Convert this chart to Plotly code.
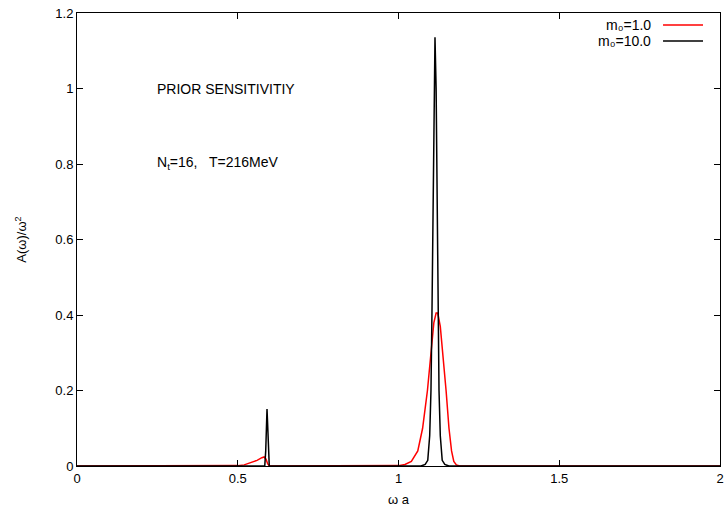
import plotly.graph_objects as go

# ---- data ----
omega_m1 = [0.0, 0.48, 0.50, 0.52, 0.54, 0.56, 0.575, 0.582, 0.588, 0.593, 0.598, 0.62,
            0.98, 1.00, 1.02, 1.04, 1.06, 1.075, 1.09, 1.10, 1.11, 1.117, 1.122, 1.13, 1.138,
            1.148, 1.157, 1.165, 1.172, 1.18, 1.19, 2.0]
a_m1 = [0.0, 0.0, 0.001, 0.003, 0.008, 0.015, 0.022, 0.024, 0.018, 0.006, 0.0, 0.0,
        0.0, 0.001, 0.004, 0.012, 0.04, 0.10, 0.20, 0.30, 0.38, 0.405, 0.405, 0.37, 0.30,
        0.20, 0.10, 0.04, 0.012, 0.003, 0.0, 0.0]

omega_m10 = [0.0, 0.58, 0.584, 0.587, 0.589, 0.591, 0.593, 0.595, 0.598, 0.62,
             1.07, 1.083, 1.091, 1.097, 1.101, 1.104, 1.107, 1.110, 1.1135,
             1.117, 1.120, 1.123, 1.126, 1.130, 1.136, 1.144, 1.157, 2.0]
a_m10 = [0.0, 0.0, 0.0, 0.04, 0.11, 0.151, 0.11, 0.04, 0.0, 0.0,
         0.0, 0.004, 0.015, 0.08, 0.20, 0.40, 0.70, 1.00, 1.136,
         1.00, 0.70, 0.40, 0.20, 0.08, 0.015, 0.004, 0.0, 0.0]

series_names = ["m₀=1.0", "m₀=10.0"]
series_colors = ["#ff0000", "#000000"]

x_ticks = [0, 0.5, 1, 1.5, 2]
x_ticklabels = ["0", "0.5", "1", "1.5", "2"]
y_ticks = [0, 0.2, 0.4, 0.6, 0.8, 1.0, 1.2]
y_ticklabels = ["0", "0.2", "0.4", "0.6", "0.8", "1", "1.2"]

FONT = "Liberation Sans, Arial, DejaVu Sans, sans-serif"
TXT = 14
TICK = 13

fig = go.Figure()
fig.add_trace(go.Scatter(x=omega_m1, y=a_m1, mode="lines", name=series_names[0],
                         line=dict(color=series_colors[0], width=1.5), showlegend=False))
fig.add_trace(go.Scatter(x=omega_m10, y=a_m10, mode="lines", name=series_names[1],
                         line=dict(color=series_colors[1], width=1.5), showlegend=False))

# legend drawn gnuplot-style (text right-aligned, sample line on the right)
leg_y = [0.9735, 0.9382]
for name, col, yy in zip(series_names, series_colors, leg_y):
    fig.add_annotation(xref="paper", yref="paper", x=0.8958, y=yy, text=name,
                       showarrow=False, xanchor="right", yanchor="middle",
                       font=dict(family=FONT, size=TXT, color="black"))
    fig.add_shape(type="line", xref="paper", yref="paper", x0=0.9114, x1=0.9736,
                  y0=yy, y1=yy, line=dict(color=col, width=1.5))

fig.add_annotation(xref="paper", yref="paper", x=0.1244, y=0.832,
                   text="PRIOR SENSITIVITIY", showarrow=False,
                   xanchor="left", yanchor="middle", xshift=-2,
                   font=dict(family=FONT, size=TXT, color="black"))
fig.add_annotation(xref="paper", yref="paper", x=0.1244, y=0.669,
                   text="N<sub>t</sub>=16,   T=216MeV", showarrow=False,
                   xanchor="left", yanchor="middle", xshift=-2,
                   font=dict(family=FONT, size=TXT, color="black"))

axis_common = dict(showgrid=False, zeroline=False, showline=True, linecolor="black",
                   linewidth=1, mirror="ticks", ticks="inside", ticklen=6,
                   tickcolor="black", ticklabeloverflow="allow",
                   tickfont=dict(family=FONT, size=TICK, color="black"))

fig.update_xaxes(range=[0, 2], tickvals=x_ticks, ticktext=x_ticklabels,
                 title=dict(text="ω a", font=dict(family=FONT, size=TICK, color="black"),
                            standoff=10), **axis_common)
fig.update_yaxes(range=[0, 1.2], tickvals=y_ticks, ticktext=y_ticklabels,
                 title=dict(text="A(ω)/ω<sup>2</sup>",
                            font=dict(family=FONT, size=TICK, color="black"), standoff=25),
                 **axis_common)

fig.update_layout(width=726, height=510, plot_bgcolor="white", paper_bgcolor="white",
                  margin=dict(l=77, r=6, t=13, b=44, autoexpand=False),
                  font=dict(family=FONT, size=TICK, color="black"))

# remove the browser's default 8px body margin so the figure fills the window
fig.write_html("out.html", config={"displayModeBar": False},
               post_script="document.body.style.margin='0';document.body.style.overflow='hidden';")
